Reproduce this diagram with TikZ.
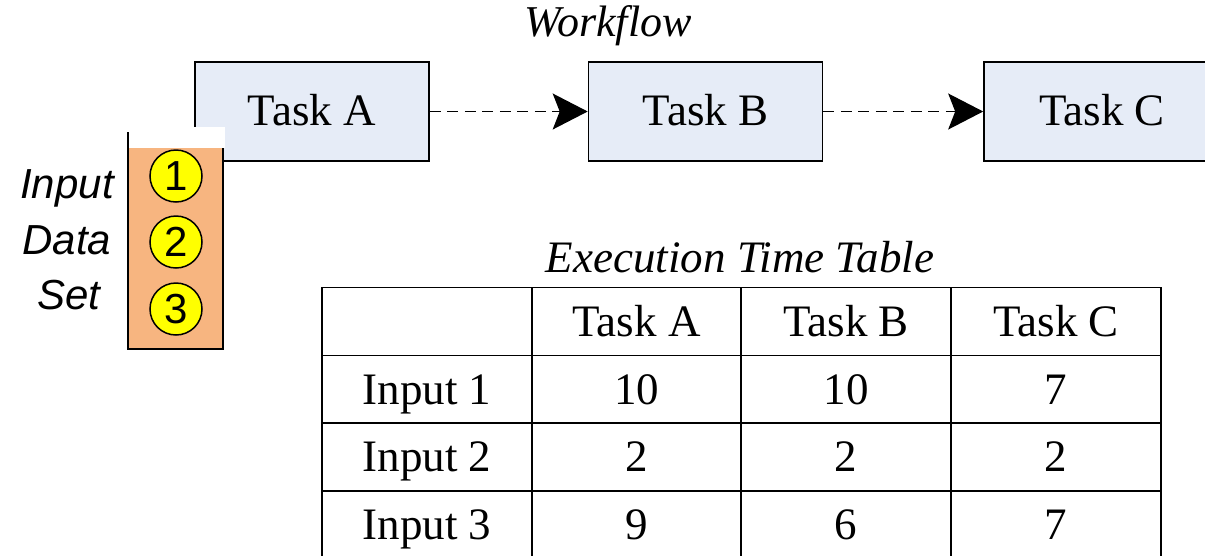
\documentclass[tikz,border=0pt]{standalone}
\usepackage{fontspec}
\setmainfont{Liberation Serif}
\newfontfamily\arialfont{Liberation Sans}
\usetikzlibrary{arrows.meta}
\definecolor{taskfill}{RGB}{230,236,247}
\definecolor{inputfill}{RGB}{247,181,128}
\definecolor{tokenfill}{RGB}{255,255,0}

\begin{document}
\begin{tikzpicture}[x=1pt,y=-1pt,
  taskbox/.style={draw, line width=1.6pt, fill=taskfill, minimum width=234pt,
    minimum height=99pt, inner sep=0pt, text height=31pt, text depth=4pt,
    font=\fontsize{45}{50}\selectfont},
  flow/.style={line width=1.4pt, dash pattern=on 11pt off 6.5pt,
    -{Stealth[length=35pt,width=36pt,inset=7pt]}},
  token/.style={circle, draw, line width=1.5pt, fill=tokenfill, minimum size=52pt,
    inner sep=0pt, font=\arialfont\fontsize{42}{42}\selectfont},
  sidelabel/.style={anchor=base, inner sep=0pt, font=\arialfont\itshape\fontsize{42}{42}\selectfont},
  title/.style={anchor=base, inner sep=0pt, font=\itshape\fontsize{44}{48}\selectfont},
  cell/.style={draw, line width=1.6pt, minimum width=210pt, minimum height=68pt,
    inner sep=0pt, text height=31pt, text depth=2pt,
    font=\fontsize{45}{50}\selectfont}
]
\clip (0,0) rectangle (1205,555);

% workflow
\node[title] (wf) at (608,36) {Workflow};
\node[taskbox] (ta) at (312,111.5) {Task A};
\node[taskbox] (tb) at (705.5,111.5) {Task B};
\node[taskbox, minimum width=236pt] (tc) at (1102,111.5) {Task C};
\draw[flow] (ta) -- (tb);
\draw[flow] (tb) -- (tc);

% input data set
\node[draw, line width=1.6pt, fill=inputfill, minimum width=95pt, minimum height=216pt,
  inner sep=0pt] (ds) at (175.5,241) {};
\fill[white] (129.3,127) rectangle (224.5,148);
\node[token] (d1) at (176,176) {1};
\node[token] (d2) at (176,242) {2};
\node[token] (d3) at (176,309) {3};
\node[sidelabel] (l1) at (67,198) {Input};
\node[sidelabel] (l2) at (67,254) {Data};
\node[sidelabel] (l3) at (69,309) {Set};

% execution time table
\node[title, font=\itshape\fontsize{45}{50}\selectfont] (tt) at (740,272) {Execution Time Table};
\node[cell] (c00) at (427,321.5) {};
\node[cell] (c01) at (636.5,321.5) {Task A};
\node[cell] (c02) at (846,321.5) {Task B};
\node[cell] (c03) at (1056,321.5) {Task C};
\node[cell] (c10) at (427,389.5) {Input 1};
\node[cell] (c11) at (636.5,389.5) {10};
\node[cell] (c12) at (846,389.5) {10};
\node[cell] (c13) at (1056,389.5) {7};
\node[cell] (c20) at (427,457) {Input 2};
\node[cell] (c21) at (636.5,457) {2};
\node[cell] (c22) at (846,457) {2};
\node[cell] (c23) at (1056,457) {2};
\node[cell] (c30) at (427,525) {Input 3};
\node[cell] (c31) at (636.5,525) {9};
\node[cell] (c32) at (846,525) {6};
\node[cell] (c33) at (1056,525) {7};
\end{tikzpicture}
\end{document}
